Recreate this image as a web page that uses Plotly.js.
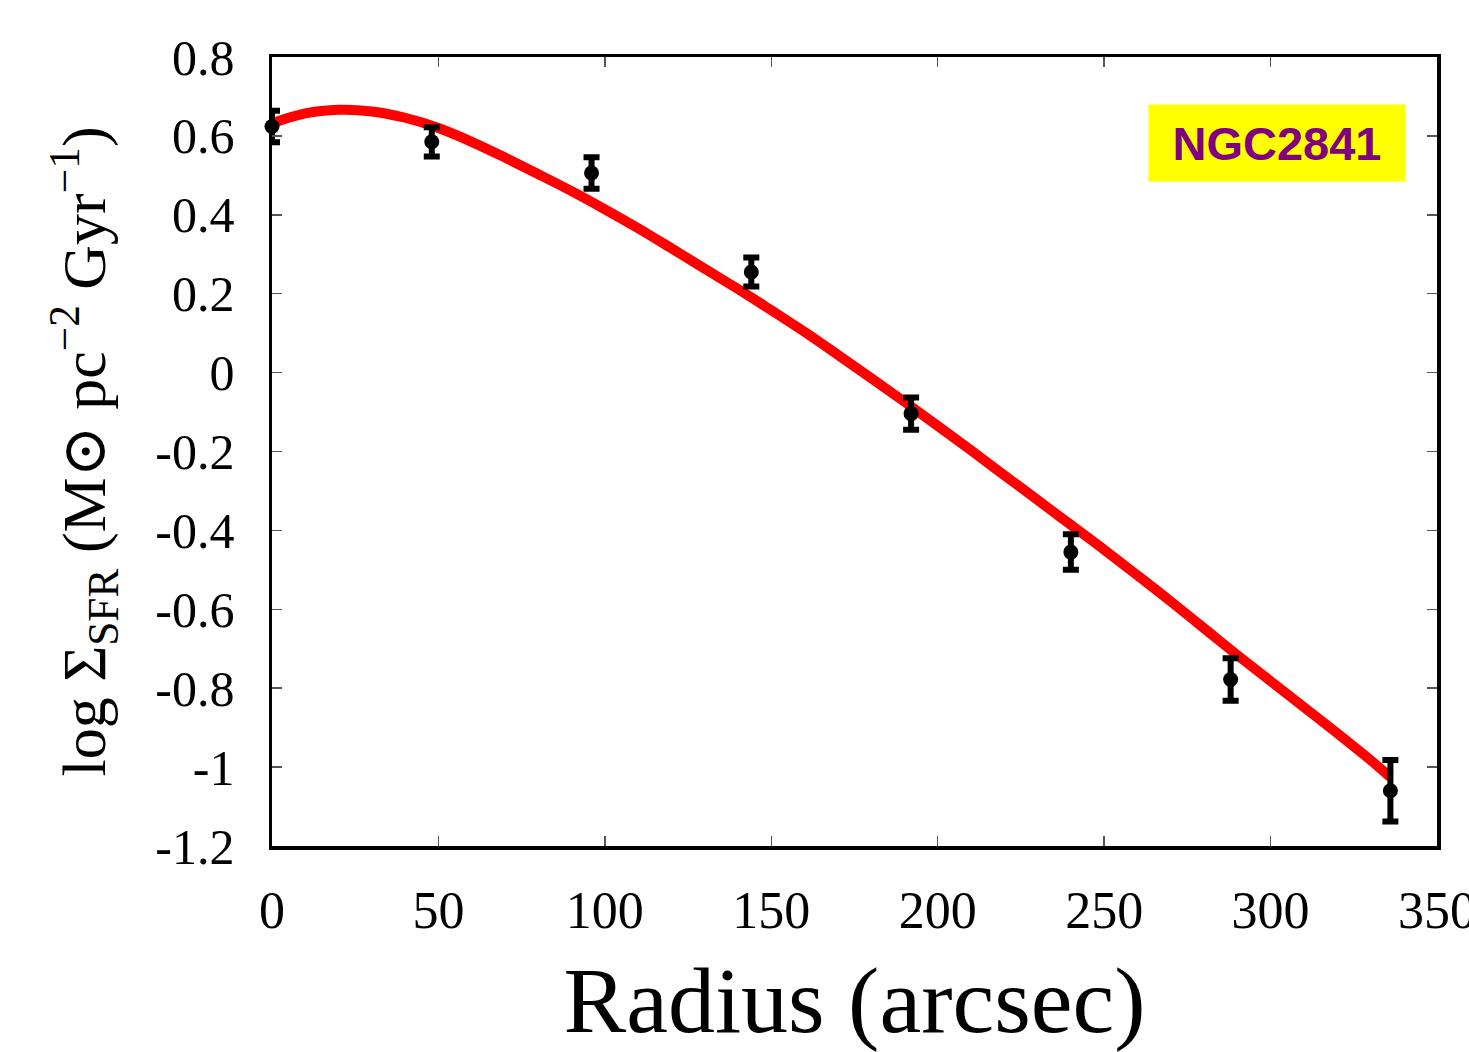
<!DOCTYPE html>
<html>
<head>
<meta charset="utf-8">
<script src="https://cdn.plot.ly/plotly-3.0.1.min.js"></script>
<style>
  html, body { margin: 0; padding: 0; background: #ffffff; }
  #chart { width: 1469px; height: 1052px; }
</style>
</head>
<body>
<div id="chart"></div>
<script>
// Observed points
const radius = [0, 48, 96, 144, 192, 240, 288, 336];
const logSFR = [0.624, 0.585, 0.506, 0.255, -0.104, -0.455, -0.778, -1.060];
const errSFR = [0.040, 0.037, 0.040, 0.037, 0.041, 0.045, 0.054, 0.078];

// Model curve
const fitRadius = [0, 10, 20, 30, 40, 50, 60, 70, 80, 90, 100, 110, 120, 130, 140, 150, 160, 170, 180, 190, 200, 210, 220, 230, 240, 250, 260, 270, 280, 290, 300, 310, 320, 330, 336];
const fitSFR = [0.632, 0.657, 0.666, 0.662, 0.646, 0.620, 0.585, 0.545, 0.503, 0.460, 0.414, 0.366, 0.315, 0.263, 0.212, 0.158, 0.103, 0.045, -0.014, -0.074, -0.135, -0.197, -0.260, -0.323, -0.386, -0.449, -0.514, -0.580, -0.648, -0.716, -0.782, -0.848, -0.914, -0.982, -1.026];

// Axis ticks
const xTickVals = [0, 50, 100, 150, 200, 250, 300, 350];
const xTickText = ["0", "50", "100", "150", "200", "250", "300", "350"];
const yTickVals = [0.8, 0.6, 0.4, 0.2, 0, -0.2, -0.4, -0.6, -0.8, -1, -1.2];
const yTickText = ["0.8", "0.6", "0.4", "0.2", "0", "-0.2", "-0.4", "-0.6", "-0.8", "-1", "-1.2"];

const galaxyName = "NGC2841";

const serif = "Liberation Serif, DejaVu Serif, serif";

const traces = [
  {
    x: fitRadius, y: fitSFR, type: "scatter", mode: "lines",
    line: { color: "#ff0000", width: 10, shape: "spline", smoothing: 1 },
    cliponaxis: false, showlegend: false, hoverinfo: "skip"
  },
  {
    x: radius, y: logSFR, type: "scatter", mode: "markers",
    marker: { color: "#000000", size: 15, symbol: "circle" },
    error_y: { type: "data", array: errSFR, visible: true, color: "#000000", thickness: 6, width: 8 },
    cliponaxis: false, showlegend: false, hoverinfo: "skip"
  }
];

const layout = {
  width: 1469, height: 1052,
  margin: { l: 272, r: 32, t: 57, b: 206 },
  paper_bgcolor: "#ffffff", plot_bgcolor: "#ffffff",
  showlegend: false,
  xaxis: {
    range: [0, 350], autorange: false,
    tickmode: "array", tickvals: xTickVals, ticktext: xTickText,
    ticks: "inside", ticklen: 10, tickwidth: 1.5, tickcolor: "#555555",
    showline: true, linecolor: "#000000", linewidth: 3.5, mirror: "ticks",
    showgrid: false, zeroline: false,
    tickfont: { family: serif, size: 52, color: "#000000" },
    ticklabelstandoff: 16, ticklabeloverflow: "allow",
    title: { text: "Radius (arcsec)", font: { family: serif, size: 94, color: "#000000" }, standoff: 30 }
  },
  yaxis: {
    range: [-1.2, 0.8], autorange: false,
    tickmode: "array", tickvals: yTickVals, ticktext: yTickText,
    ticks: "inside", ticklen: 10, tickwidth: 1.5, tickcolor: "#555555",
    showline: true, linecolor: "#000000", linewidth: 3.5, mirror: "ticks",
    showgrid: false, zeroline: false,
    tickfont: { family: serif, size: 50, color: "#000000" },
    ticklabelstandoff: 24, ticklabeloverflow: "allow",
    title: { text: "log Σ<sub>SFR</sub> (M⊙ pc<sup>−2</sup> Gyr<sup>−1</sup>)", font: { family: serif, size: 62, color: "#000000" }, standoff: 30 }
  },
  annotations: [
    {
      xref: "paper", yref: "paper", x: 0.8627, y: 0.891,
      xanchor: "center", yanchor: "middle",
      text: "<b>" + galaxyName + "</b>", showarrow: false,
      font: { family: "Liberation Sans, Arial, sans-serif", size: 47, color: "#800080" },
      bgcolor: "#ffff00", borderpad: 0, width: 256, height: 76, align: "center", valign: "middle"
    }
  ]
};

Plotly.newPlot("chart", traces, layout, { staticPlot: true, displayModeBar: false });
</script>
</body>
</html>
